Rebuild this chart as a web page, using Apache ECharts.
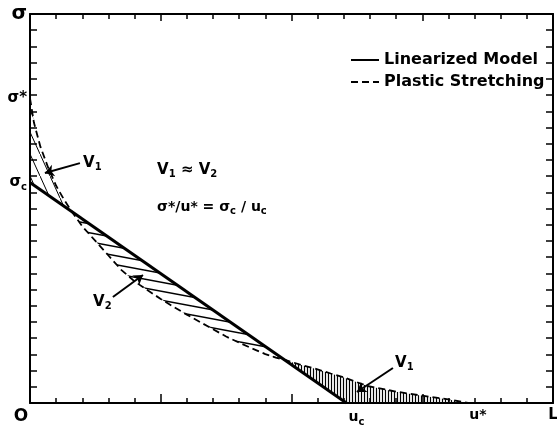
<!DOCTYPE html>
<html>
<head>
<meta charset="utf-8">
<script src="https://cdn.jsdelivr.net/npm/echarts@6/dist/echarts.min.js"></script>
<style>
  html, body { margin: 0; padding: 0; background: #fff; }
  #chart { width: 557px; height: 427px; }
</style>
</head>
<body>
<div id="chart"></div>
<script>
// axis units: x runs 0..20 (0 to L), y runs 0..24 (0 to sigma)
const xMax = 20;
const yMax = 24;
const sigmaC = 13.6;
const uC = 12.1;
const sigmaStar = 18.8;
const uStar = 16.75;

// solid line
const linearized = [[0, sigmaC], [uC, 0]];

// dashed curve
const plastic = [
  [0, sigmaStar], [0.15, 17.3], [0.4, 15.8], [0.7, 14.5], [1.0, 13.4], [1.3, 12.55],
  [1.6, 11.8],
  [2.0, 10.9], [2.5, 10.0], [3.0, 9.1], [3.5, 8.2], [4.0, 7.5], [4.5, 6.95], [5.0, 6.42],
  [5.5, 5.92], [6.0, 5.45], [6.5, 5.0], [7.0, 4.55], [7.5, 4.1], [8.0, 3.72], [8.5, 3.36],
  [9.0, 3.02], [9.4, 2.8],
  [9.75, 2.66],
  [10.3, 2.38], [10.9, 2.12], [11.5, 1.82], [12.0, 1.58], [12.9, 1.05], [14.0, 0.7],
  [15.0, 0.45], [16.0, 0.22], [uStar, 0]
];
const cross1 = 6;   // index where dashed meets solid first
const cross2 = 23;  // index where dashed meets solid again

// tick labels
const xLabelValues = [0, uC, uStar, xMax];
const xLabelTexts = ['{o|O}', '{uc|u}{sub|c}', '{us|u*}', '{l|L}'];
const yLabelValues = [yMax, sigmaStar, sigmaC];
const yLabelTexts = ['{big|σ}', '{s|σ*}', '{s|σ}{sub|c}'];

// annotations
const notes = [
  { pos: [2.03, 14.8], text: '{v|V}{sub|1}' },
  { pos: [2.41, 6.23], text: '{v|V}{sub|2}' },
  { pos: [13.96, 2.45], text: '{v|V}{sub|1}' },
  { pos: [4.86, 14.37], text: '{v|V}{sub|1}{v| ≈ V}{sub|2}' },
  { pos: [4.86, 12.09], text: '{e|σ*/u* = σ}{sub|c}{e| / u}{sub|c}' }
];
const arrows = [
  [[1.91, 14.8], [0.57, 14.19]],
  [[3.17, 6.54], [4.32, 7.9]],
  [[13.88, 2.16], [12.5, 0.68]]
];

const FONT = 'DejaVu Sans';

function makePattern(w, h, lw, draw) {
  const c = document.createElement('canvas');
  c.width = w; c.height = h;
  const ctx = c.getContext('2d');
  ctx.strokeStyle = '#000';
  ctx.lineWidth = lw;
  draw(ctx, w, h);
  return { image: c, repeat: 'repeat' };
}
function slanted(ctx, w, h) {
  for (let m = -1; m <= 1; m++) {
    ctx.beginPath();
    ctx.moveTo(0, m * h);
    ctx.lineTo(w, h + m * h);
    ctx.stroke();
  }
}
const patV2 = makePattern(48, 9, 1.5, slanted);
const patTop = makePattern(10, 22, 1, slanted);
const patBottom = makePattern(3, 4, 1.2, function (ctx, w, h) {
  ctx.beginPath();
  ctx.moveTo(1.5, 0);
  ctx.lineTo(1.5, h);
  ctx.stroke();
});

function hatch(points, pattern) {
  return {
    type: 'custom',
    silent: true,
    data: [0],
    z: 1,
    renderItem: function (params, api) {
      return {
        type: 'polygon',
        shape: { points: points.map(p => api.coord(p)) },
        style: { fill: pattern, stroke: null }
      };
    }
  };
}

const subRich = {
  sub: { fontFamily: FONT, fontWeight: 'bold', fontSize: 10, color: '#000', padding: [9, 0, 0, 0] }
};
const bold = (size, pad) => ({ fontFamily: FONT, fontWeight: 'bold', fontSize: size, color: '#000', padding: pad || 0 });

const chart = echarts.init(document.getElementById('chart'));

const axisLine = { show: true, onZero: false, lineStyle: { color: '#000', width: 2 } };
const tickStyle = { color: '#000', width: 1.5 };

chart.setOption({
  animation: false,
  backgroundColor: '#fff',
  grid: { left: 30, right: 4, top: 14, bottom: 24, outerBoundsMode: 'none', containLabel: false },
  legend: {
    data: ['Linearized Model', 'Plastic Stretching'],
    orient: 'vertical',
    left: 345,
    top: 47,
    itemWidth: 28,
    itemHeight: 14,
    itemGap: 6,
    itemStyle: { opacity: 0 },
    textStyle: { fontFamily: FONT, fontWeight: 'bold', fontSize: 16, color: '#000' }
  },
  xAxis: [
    {
      type: 'value', min: 0, max: xMax, interval: 5, position: 'bottom',
      axisLine: axisLine,
      splitLine: { show: false },
      axisTick: { show: true, inside: true, length: 9, lineStyle: tickStyle },
      minorTick: { show: true, splitNumber: 5, length: 5, lineStyle: tickStyle },
      axisLabel: {
        customValues: xLabelValues,
        margin: 5,
        color: '#000',
        formatter: function (v) { return xLabelTexts[xLabelValues.indexOf(v)]; },
        rich: Object.assign({
          o: bold(17, [0, 18, 0, 0]),
          uc: bold(14, [0, 0, 0, 20]),
          us: bold(14, [0, 0, 0, 20]),
          l: bold(15)
        }, subRich)
      }
    },
    {
      type: 'value', min: 0, max: xMax, interval: 5, position: 'top',
      axisLine: axisLine,
      splitLine: { show: false },
      axisTick: { show: true, inside: true, length: 7, lineStyle: tickStyle },
      minorTick: { show: true, splitNumber: 5, length: 5, lineStyle: tickStyle },
      axisLabel: { show: false }
    }
  ],
  yAxis: [
    {
      type: 'value', min: 0, max: yMax, interval: 1, position: 'left',
      axisLine: axisLine,
      splitLine: { show: false },
      axisTick: { show: true, inside: true, length: 7, lineStyle: tickStyle },
      axisLabel: {
        customValues: yLabelValues,
        margin: 3,
        color: '#000',
        formatter: function (v) { return yLabelTexts[yLabelValues.indexOf(v)]; },
        rich: Object.assign({
          big: bold(20),
          s: bold(15)
        }, subRich)
      }
    },
    {
      type: 'value', min: 0, max: yMax, interval: 1, position: 'right',
      axisLine: axisLine,
      splitLine: { show: false },
      axisTick: { show: true, inside: true, length: 7, lineStyle: tickStyle },
      axisLabel: { show: false }
    }
  ],
  series: [
    hatch(plastic.slice(0, cross1 + 1).concat([[0, sigmaC]]), patTop),
    hatch(plastic.slice(cross1, cross2 + 1), patV2),
    hatch(plastic.slice(cross2).concat([[uC, 0]]), patBottom),
    {
      name: 'Linearized Model',
      type: 'line',
      data: linearized,
      symbol: 'none',
      z: 3,
      itemStyle: { color: '#000' },
      lineStyle: { color: '#000', width: 3 }
    },
    {
      name: 'Plastic Stretching',
      type: 'line',
      data: plastic,
      symbol: 'none',
      z: 3,
      itemStyle: { color: '#000' },
      lineStyle: { color: '#000', width: 1.8, type: [7, 4] }
    },
    {
      type: 'lines',
      coordinateSystem: 'cartesian2d',
      silent: true,
      z: 4,
      symbol: ['none', 'arrow'],
      symbolSize: 9,
      lineStyle: { color: '#000', width: 2, opacity: 1, curveness: 0 },
      data: arrows.map(a => ({ coords: a }))
    },
    {
      type: 'scatter',
      silent: true,
      symbolSize: 0,
      z: 4,
      itemStyle: { opacity: 1, color: '#000' },
      data: notes.map(n => ({ value: n.pos, label: { formatter: n.text } })),
      label: {
        show: true,
        position: [0, 0],
        align: 'left',
        verticalAlign: 'middle',
        color: '#000',
        opacity: 1,
        rich: Object.assign({
          v: bold(15),
          e: bold(14)
        }, subRich)
      }
    }
  ]
});
</script>
</body>
</html>
